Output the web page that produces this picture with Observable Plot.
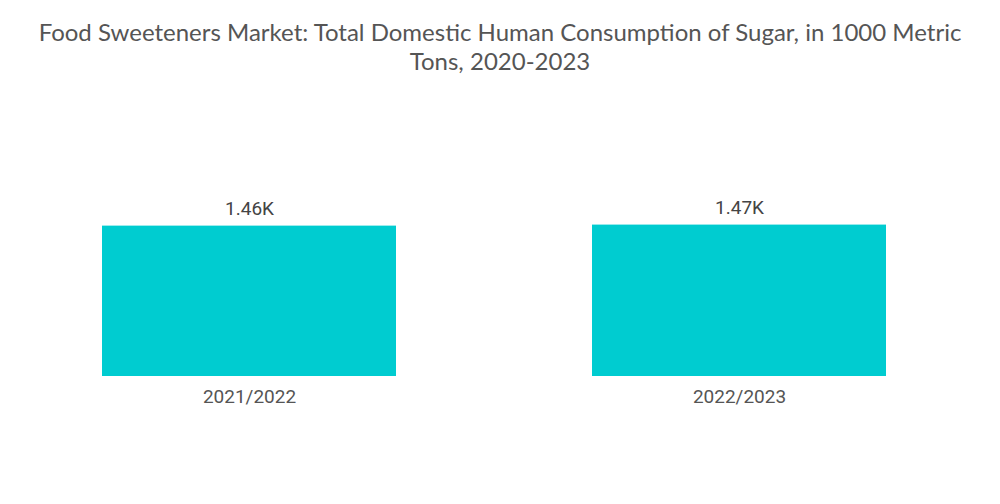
<!DOCTYPE html>
<html>
<head>
<meta charset="utf-8">
<script src="https://cdn.jsdelivr.net/npm/d3@7"></script>
<script src="https://cdn.jsdelivr.net/npm/@observablehq/plot@0.6"></script>
<style>
  body { margin: 0; background: #fff; width: 1000px; height: 504px; overflow: hidden; }
  #title { height: 100px; box-sizing: border-box; padding-top: 17px; text-align: center; white-space: nowrap;
    font-family: Lato, "Open Sans", sans-serif; font-size: 24px; line-height: 29px; color: #555; }
</style>
</head>
<body>
<div id="title">Food Sweeteners Market: Total Domestic Human Consumption of Sugar, in 1000 Metric<br>Tons, 2020-2023</div>
<div id="chart"></div>
<script>
const years = ["2021/2022", "2022/2023"];
const values = [1460, 1470];
const labels = ["1.46K", "1.47K"];

const data = years.map((y, i) => ({year: y, value: values[i], label: labels[i]}));

const chart = Plot.plot({
  width: 1000,
  height: 404,
  marginLeft: 53,
  marginRight: 65,
  marginTop: 70,
  marginBottom: 128,
  style: {fontFamily: "Roboto, sans-serif", color: "#444", background: "#fff"},
  x: {domain: years, paddingInner: 0.4, paddingOuter: 0.1, label: null},
  y: {domain: [0, 2000], axis: null},
  marks: [
    Plot.barY(data, {x: "year", y: "value", fill: "#00CCD0"}),
    Plot.text(data, {x: "year", y: "value", text: "label", dy: -17, fontSize: 19, fill: "#444"}),
    Plot.axisX({tickSize: 0, tickPadding: 13, fontSize: 19, label: null, fill: "#555"})
  ]
});
document.getElementById("chart").appendChild(chart);
</script>
</body>
</html>
